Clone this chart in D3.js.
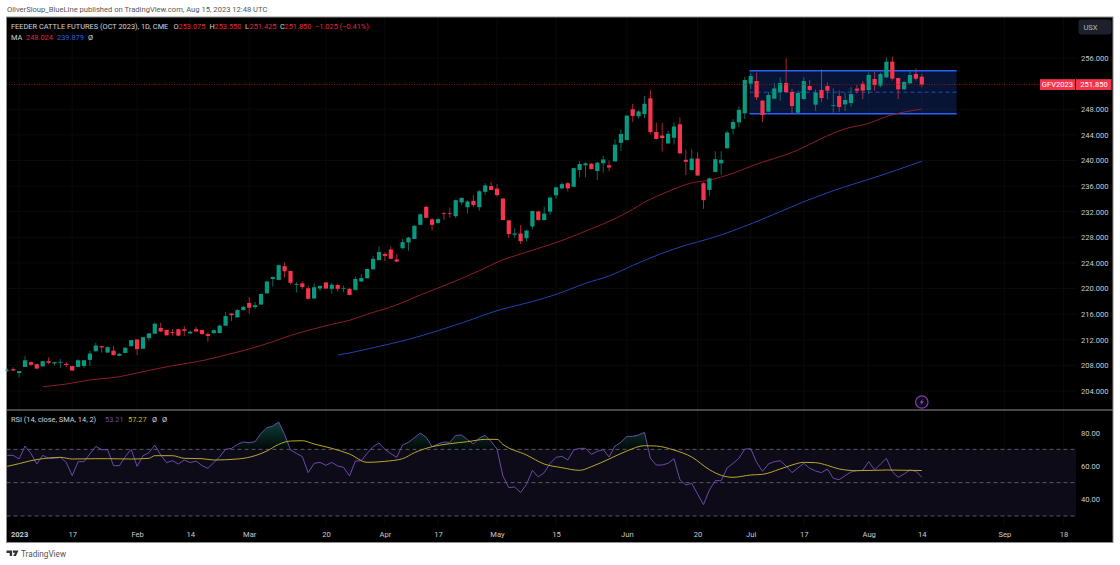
<!DOCTYPE html>
<html>
<head>
<meta charset="utf-8">
<script src="https://cdn.jsdelivr.net/npm/d3@7"></script>
<style>
  html, body { margin: 0; padding: 0; background: #fff; }
  svg { display: block; }
  text { font-family: Roboto, "Liberation Sans", sans-serif; }
</style>
</head>
<body>
<div id="chart"></div>
<script>
// daily candles, one value per session
const opens = [207.2,207.4,206.8,207.75,208.5,208.2,207.85,208.65,208.3,208.45,
  208.25,207.9,207.75,207.9,208.85,210.2,211.0,210.0,210.3,209.5,
  209.95,211.0,212.05,210.6,212.25,212.95,213.85,213.55,213.2,213.65,
  213.65,213.0,213.65,213.55,212.9,213.05,213.05,214.2,216.1,215.5,
  216.65,217.75,217.1,217.5,219.25,221.5,221.35,223.5,222.75,220.6,
  220.8,220.05,218.45,220.0,220.95,219.95,220.55,220.0,219.95,219.8,
  221.1,221.6,223.0,224.45,225.4,226.1,224.55,226.3,227.2,227.75,
  229.95,232.75,230.8,230.25,231.75,231.75,231.3,233.45,232.7,233.7,
  232.7,235.1,236.0,235.6,234.05,230.65,228.4,228.6,227.85,229.7,
  232.05,230.7,232.0,234.55,235.65,236.45,235.9,238.5,239.25,239.5,
  238.35,239.55,239.25,239.85,242.75,243.2,248.0,246.9,247.25,249.7,
  244.45,243.9,242.65,243.55,245.65,240.1,238.5,240.3,236.45,235.4,
  238.2,239.55,241.9,244.95,245.95,247.36,251.99,252.41,249.34,247.62,
  249.65,250.69,252.1,250.69,247.46,249.6,251.63,248.71,251.0,251.63,
  248.56,250.07,248.76,248.97,251.21,251.99,251.0,252.72,251.68,252.98,
  255.43,252.88,251.11,252.04,253.5,253.075]
const highs = [207.5,207.7,207.1,209.5,208.6,208.2,208.7,209.25,208.55,209.0,
  208.5,207.95,208.95,208.85,210.25,211.55,211.05,210.95,211.05,209.95,
  210.85,212.0,212.05,212.4,213.05,214.7,214.65,213.55,213.7,213.7,
  214.15,213.45,214.05,213.55,213.2,213.6,214.4,216.35,216.15,216.8,
  217.3,218.7,217.9,219.2,221.2,221.85,223.75,224.1,222.75,221.0,
  221.1,220.45,220.8,220.5,221.05,220.85,220.7,220.45,220.15,221.9,
  222.25,223.1,225.1,226.6,225.65,226.6,225.4,227.75,228.1,229.9,
  231.75,232.95,231.0,231.0,231.95,232.65,233.9,234.25,233.8,234.6,
  235.4,236.45,236.65,236.3,234.1,230.7,229.4,229.9,229.2,232.2,
  232.15,232.8,234.35,235.9,236.6,236.6,238.85,239.9,239.7,239.55,
  239.8,240.7,240.0,243.3,244.85,247.05,248.85,247.9,250.05,251.0,
  245.9,245.85,244.65,245.95,246.75,241.7,241.75,241.3,236.6,237.35,
  241.45,241.45,244.65,246.45,248.4,253.08,253.6,253.71,249.44,250.74,
  252.15,252.98,255.95,251.21,250.9,252.98,252.56,251.11,254.23,252.2,
  251.26,250.95,250.59,251.42,251.78,252.41,253.71,253.87,253.71,256.1,
  256.21,252.93,252.46,254.13,254.39,253.55]
const lows = [207.0,207.1,206.1,207.75,207.9,207.45,207.8,208.2,208.0,207.6,
  207.75,207.15,207.75,207.6,207.9,210.15,210.0,209.95,209.55,209.4,
  209.9,210.95,209.6,210.55,211.85,212.9,213.2,212.65,212.65,212.6,
  212.6,212.9,213.2,212.75,211.7,212.85,213.0,214.15,214.95,215.45,
  216.55,216.05,216.85,217.45,219.2,220.3,221.3,221.75,220.6,219.35,
  219.9,218.3,218.35,219.6,219.9,219.2,219.55,219.4,218.95,219.7,
  221.05,221.55,222.95,224.4,224.3,224.6,224.15,226.15,225.9,227.7,
  229.9,231.0,229.05,230.1,230.7,231.05,231.0,233.05,231.7,232.7,
  232.15,234.65,235.35,234.35,230.65,227.9,227.9,226.95,227.35,229.25,
  230.6,230.65,231.5,234.0,235.5,235.15,235.85,237.35,237.4,238.6,
  236.95,238.1,238.35,239.8,241.5,243.15,246.05,246.5,246.6,244.1,
  243.3,241.4,242.6,242.5,241.05,237.7,238.45,237.55,232.45,234.5,
  238.15,237.8,241.85,244.1,245.2,246.47,251.11,249.44,246.0,247.51,
  249.55,249.34,250.59,247.36,247.41,249.44,250.9,247.72,249.13,249.55,
  247.46,247.57,247.72,248.4,250.48,249.6,250.38,250.9,251.42,252.88,
  252.46,249.6,251.0,251.94,252.46,251.425]
const closes = [207.3,207.2,207.1,208.8,208.1,207.5,208.65,208.4,208.5,208.55,
  208.05,207.2,208.8,208.8,209.85,211.1,210.8,210.85,209.6,209.8,
  210.75,211.95,210.55,212.4,213.0,214.5,213.3,212.7,213.1,212.65,
  213.4,213.25,213.3,212.9,212.6,213.5,214.2,215.7,215.85,216.65,
  217.15,217.0,217.4,219.15,221.1,221.8,223.65,222.7,220.9,220.7,
  220.25,218.4,220.2,220.4,220.0,220.6,219.95,220.1,219.0,221.5,
  221.65,223.05,224.65,225.7,225.1,224.65,224.2,227.25,227.95,229.8,
  231.6,231.05,229.95,230.85,231.65,231.65,233.8,234.15,233.6,233.05,
  235.2,236.1,235.4,234.6,230.7,228.5,228.6,227.4,229.05,232.1,
  230.7,231.7,234.2,235.8,236.3,235.65,238.8,239.45,239.55,238.65,
  239.65,240.15,238.9,242.45,244.15,247.0,246.95,247.65,248.85,244.45,
  243.35,243.5,244.15,245.3,241.1,239.8,240.3,237.65,233.8,237.2,
  240.2,240.1,244.35,246.0,247.9,252.56,253.19,249.86,247.1,250.22,
  251.26,252.1,250.69,248.5,250.53,252.41,251.0,250.59,249.75,250.9,
  248.66,248.35,249.44,250.38,250.9,250.9,253.35,251.78,253.5,255.43,
  252.77,251.11,252.25,253.35,252.77,251.85]

// moving averages, read at a bar every so often
const maRedBars = [6,10,14,19,23,28,33,37,41,45,48,52,55,58,61,66,70,75,80,84,87,94,99,103,106,108,112,116,119,123,126,134,138,142,146,149,155]
const maRedValues = [204.67,205.09,205.72,206.23,207.02,207.95,208.73,209.62,210.56,211.7,212.67,213.71,214.42,215.04,215.98,217.45,219.0,220.8,222.79,224.49,225.4,227.5,229.34,230.91,232.37,233.48,235.15,236.5,236.94,238.0,239.09,241.63,243.43,244.94,245.8,246.86,248.024]
const maBlueBars = [56,58,62,68,73,77,83,89,93,98,102,106,108,113,121,128,135,141,147,155]
const maBlueValues = [209.62,209.94,210.76,212.06,213.42,214.62,216.54,217.98,219.07,220.82,221.96,223.6,224.4,226.17,228.38,230.83,233.56,235.6,237.34,239.879]

const rsi = [66.4,66.4,64.2,72.0,67.6,61.2,66.4,64.6,64.6,65.2,
  62.2,54.2,62.6,62.6,67.2,71.8,69.8,69.8,60.2,60.2,
  65.6,70.0,59.8,66.2,68.0,72.6,66.6,62.0,63.2,61.2,
  63.6,62.0,63.0,60.2,58.6,62.0,65.6,70.0,70.6,73.0,
  74.4,74.0,74.6,79.6,83.0,84.0,86.4,79.0,69.6,67.6,
  65.6,56.0,61.6,62.2,60.4,62.2,60.0,59.2,54.0,63.0,
  63.2,67.6,71.6,73.8,70.0,67.4,65.2,72.6,74.2,77.0,
  79.8,77.2,71.6,73.2,74.4,74.2,78.4,78.6,75.8,73.2,
  76.8,78.4,74.8,70.2,54.0,47.0,47.4,44.0,49.0,57.4,
  53.4,56.0,61.6,65.2,65.8,63.6,69.6,70.6,70.6,67.0,
  68.8,69.8,65.4,72.0,74.2,77.8,77.8,78.6,80.2,64.6,
  60.6,60.6,61.6,64.4,51.8,48.6,49.6,43.2,36.8,45.6,
  51.2,51.2,58.8,61.6,64.6,70.2,70.4,62.2,56.8,61.2,
  62.6,63.2,60.0,56.0,58.8,61.6,58.6,57.0,56.0,58.2,
  52.6,51.8,54.2,56.4,57.2,57.4,62.6,57.6,61.2,64.6,
  56.6,53.2,55.2,57.6,56.8,53.21]
const rsiMaBars = [0,2,4,7,9,11,15,17,21,24,25,28,30,33,35,39,42,44,46,48,50,52,55,58,61,64,67,69,72,75,78,81,83,84,88,91,94,97,99,102,105,108,110,113,116,119,121,123,126,128,131,133,135,137,139,141,144,147,149,153,155]
const rsiMaValues = [59.8,61.4,63.2,64.8,65.2,64.2,64.4,64.4,64.2,64.6,66.2,66.2,64.6,64.4,63.6,64.2,66.2,69.0,73.0,75.0,75.2,73.2,70.6,67.2,62.2,62.8,64.4,68.0,71.6,73.4,74.6,76.0,76.0,73.0,66.6,61.2,59.0,57.4,59.6,64.2,69.0,72.2,72.0,69.6,65.4,57.8,54.4,53.2,54.6,55.0,58.2,60.6,62.2,62.0,60.4,58.2,57.2,57.4,57.6,57.4,57.27]

// range box drawn on the chart
const boxBars = [125.8, 160.9]
const boxPrices = [254.02, 247.3]

const priceTicks = [256,248,244,240,236,232,228,224,220,216,212,208,204]
const rsiTicks = [80,60,40]
const rsiBands = [70,50,30]
const timeBars = [2,11,22,31,41,54,64,73,83,93,105,117,126,135,146,155,169,179]
const timeLabels = ['2023','17','Feb','14','Mar','20','Apr','17','May','15','Jun','20','Jul','17','Aug','14','Sep','18']

const lastClose = closes[closes.length - 1]

const svg = d3.select('#chart').append('svg')
    .attr('width', 1120)
    .attr('height', 565)

const paneLeft = 6.5, paneRight = 1113, paneTop = 17, paneBottom = 542.5, split = 410, axisX = 1076

const x = d3.scaleLinear().domain([0, 155]).range([7.3, 921.8])
const y = d3.scaleLinear().domain([204, 256]).range([391, 58])
const yRsi = d3.scaleLinear().domain([40, 80]).range([499.3, 432.7])

svg.append('rect').attr('x', paneLeft).attr('y', paneTop).attr('width', paneRight - paneLeft).attr('height', paneBottom - paneTop).attr('fill', '#000')

const defs = svg.append('defs')
defs.append('clipPath').attr('id', 'over70').append('rect')
    .attr('x', paneLeft).attr('y', yRsi(95)).attr('width', axisX - paneLeft).attr('height', yRsi(70) - yRsi(95))
const grad = defs.append('linearGradient').attr('id', 'overFill')
    .attr('gradientUnits', 'userSpaceOnUse')
    .attr('x1', 0).attr('x2', 0).attr('y1', yRsi(87)).attr('y2', yRsi(70))
grad.append('stop').attr('offset', 0).attr('stop-color', '#22ab94').attr('stop-opacity', 0.38)
grad.append('stop').attr('offset', 1).attr('stop-color', '#22ab94').attr('stop-opacity', 0.05)

// faint grid
svg.append('g').selectAll('line').data(timeBars).join('line')
    .attr('x1', d => x(d)).attr('x2', d => x(d)).attr('y1', paneTop).attr('y2', paneBottom - 17)
    .attr('stroke', '#0a0a0a')
svg.append('g').selectAll('line').data(priceTicks).join('line')
    .attr('x1', paneLeft).attr('x2', axisX).attr('y1', d => y(d)).attr('y2', d => y(d))
    .attr('stroke', '#0a0a0a')

// range box
svg.append('rect')
    .attr('x', x(boxBars[0])).attr('width', x(boxBars[1]) - x(boxBars[0]))
    .attr('y', y(boxPrices[0])).attr('height', y(boxPrices[1]) - y(boxPrices[0]))
    .attr('fill', '#2962ff').attr('fill-opacity', 0.2)
boxPrices.forEach(p => {
    svg.append('line')
        .attr('x1', x(boxBars[0])).attr('x2', x(boxBars[1])).attr('y1', y(p)).attr('y2', y(p))
        .attr('stroke', '#2962ff').attr('stroke-width', 1.4)
})
svg.append('line')
    .attr('x1', x(boxBars[0])).attr('x2', x(boxBars[1]))
    .attr('y1', y(d3.mean(boxPrices))).attr('y2', y(d3.mean(boxPrices)))
    .attr('stroke', '#2962ff').attr('stroke-opacity', 0.7).attr('stroke-dasharray', '4 3')

// moving averages
const maLine = d3.line().x(d => x(d[0])).y(d => y(d[1])).curve(d3.curveMonotoneX)
svg.append('path').attr('d', maLine(d3.zip(maRedBars, maRedValues)))
    .attr('fill', 'none').attr('stroke', '#8f1c30').attr('stroke-width', 1)
svg.append('path').attr('d', maLine(d3.zip(maBlueBars, maBlueValues)))
    .attr('fill', 'none').attr('stroke', '#1d45ad').attr('stroke-width', 1)

// candles
const bars = d3.range(opens.length)
const colorOf = i => closes[i] >= opens[i] ? '#089981' : '#f7344d'
const candle = svg.append('g').selectAll('g').data(bars).join('g')
candle.append('line')
    .attr('x1', i => x(i)).attr('x2', i => x(i))
    .attr('y1', i => y(highs[i])).attr('y2', i => y(lows[i]))
    .attr('stroke', colorOf).attr('stroke-width', 0.7)
candle.append('rect')
    .attr('x', i => x(i) - 2.1).attr('width', 4.2)
    .attr('y', i => y(Math.max(opens[i], closes[i])))
    .attr('height', i => Math.max(0.8, Math.abs(y(opens[i]) - y(closes[i]))))
    .attr('fill', colorOf)

// last price line
svg.append('line')
    .attr('x1', paneLeft).attr('x2', 1040).attr('y1', y(lastClose)).attr('y2', y(lastClose))
    .attr('stroke', '#a8182c').attr('stroke-width', 0.8).attr('stroke-dasharray', '1 1.5')

// rsi pane
svg.append('rect')
    .attr('x', paneLeft).attr('width', axisX - paneLeft)
    .attr('y', yRsi(70)).attr('height', yRsi(30) - yRsi(70))
    .attr('fill', '#0e0b18')
svg.append('g').selectAll('line').data(rsiBands).join('line')
    .attr('x1', paneLeft).attr('x2', axisX).attr('y1', d => yRsi(d)).attr('y2', d => yRsi(d))
    .attr('stroke', '#6f6f78').attr('stroke-width', 0.8).attr('stroke-dasharray', '4 3')
svg.append('path')
    .attr('d', d3.area().x((d, i) => x(i)).y0(yRsi(70)).y1(d => yRsi(d))(rsi))
    .attr('fill', 'url(#overFill)').attr('clip-path', 'url(#over70)')
svg.append('path')
    .attr('d', d3.line().x((d, i) => x(i)).y(d => yRsi(d))(rsi))
    .attr('fill', 'none').attr('stroke', '#6a4aa8').attr('stroke-width', 1)
svg.append('path')
    .attr('d', d3.line().x(d => x(d[0])).y(d => yRsi(d[1])).curve(d3.curveMonotoneX)(d3.zip(rsiMaBars, rsiMaValues)))
    .attr('fill', 'none').attr('stroke', '#b8a72c').attr('stroke-width', 1)

// axes
const styleAxis = g => {
    g.select('.domain').remove()
    g.selectAll('.tick line').remove()
    g.selectAll('text').attr('fill', '#c8cad2').attr('font-size', 7.6).style('font-family', 'Roboto, "Liberation Sans", sans-serif')
}
svg.append('g').attr('transform', 'translate(1081,0)')
    .call(d3.axisRight(y).tickValues(priceTicks).tickFormat(d3.format('.3f')).tickSize(0).tickPadding(0))
    .call(styleAxis)
svg.append('g').attr('transform', 'translate(1081,0)')
    .call(d3.axisRight(yRsi).tickValues(rsiTicks).tickFormat(d3.format('.2f')).tickSize(0).tickPadding(0))
    .call(styleAxis)
svg.append('g').attr('transform', 'translate(0,531.5)')
    .call(d3.axisBottom(x).tickValues(timeBars).tickFormat((d, i) => timeLabels[i]).tickSize(0).tickPadding(0))
    .call(styleAxis)
    .call(g => g.selectAll('text').filter((d, i) => i === 0).attr('font-weight', 700))

// panel borders
const border = svg.append('g').attr('stroke', '#8e8e8e').attr('fill', 'none')
border.append('rect').attr('x', paneLeft).attr('y', paneTop).attr('width', paneRight - paneLeft).attr('height', paneBottom - paneTop)
border.append('line').attr('x1', paneLeft).attr('x2', paneRight).attr('y1', split).attr('y2', split).attr('stroke-width', 1.2)

// price tags
const tagY = y(lastClose)
svg.append('rect').attr('x', 1040).attr('y', tagY - 5.4).attr('width', 35).attr('height', 10.8).attr('fill', '#f7344d')
svg.append('rect').attr('x', 1076).attr('y', tagY - 5.4).attr('width', 35.5).attr('height', 10.8).attr('fill', '#f7344d')
svg.append('text').attr('x', 1057.5).attr('y', tagY + 2.7).attr('text-anchor', 'middle')
    .attr('font-size', 7.6).attr('fill', '#fff').text('GFV2023')
svg.append('text').attr('x', 1094).attr('y', tagY + 2.7).attr('text-anchor', 'middle')
    .attr('font-size', 7.6).attr('fill', '#fff').text(d3.format('.3f')(lastClose))

// currency button
svg.append('rect').attr('x', 1078.5).attr('y', 19.5).attr('width', 33).attr('height', 15).attr('rx', 3).attr('fill', '#1c202c')
svg.append('text').attr('x', 1090.5).attr('y', 30).attr('text-anchor', 'middle')
    .attr('font-size', 7.6).attr('fill', '#b2b5be').text('USX')

// legends
const legend = (py, parts) => {
    const t = svg.append('text').attr('y', py).attr('font-size', 7.4)
    parts.forEach(p => t.append('tspan').attr('x', p[2]).attr('fill', p[1]).text(p[0]))
}
const legendRed = '#e0283f', legendWhite = '#d1d4dc'
legend(28.5, [
    ['FEEDER CATTLE FUTURES (OCT 2023), 1D, CME', legendWhite, 11],
    ['O', legendWhite, 173.5], ['253.075', legendRed, 178.5],
    ['H', legendWhite, 209.5], ['253.550', legendRed, 214.5],
    ['L', legendWhite, 245], ['251.425', legendRed, 249.5],
    ['C', legendWhite, 280], ['251.850', legendRed, 284.5],
    ['−1.025 (−0.41%)', legendRed, 315]
])
legend(40, [
    ['MA', legendWhite, 11], ['248.024', legendRed, 26], ['239.879', '#2d5fe0', 57], ['Ø', legendWhite, 88]
])
legend(422, [
    ['RSI (14, close, SMA, 14, 2)', legendWhite, 11], ['53.21', '#6a4aa8', 105], ['57.27', '#c9b82e', 128],
    ['Ø', legendWhite, 152], ['Ø', legendWhite, 162]
])

// header and footer
svg.append('text').attr('x', 7).attr('y', 11.8).attr('font-size', 7.6).attr('fill', '#555')
    .text('OliverSloup_BlueLine published on TradingView.com, Aug 15, 2023 12:48 UTC')
svg.append('path')
    .attr('transform', 'translate(6.5,550.5)')
    .attr('d', 'M0 0H5.6V5.6H3.2V2.4H0Z M6.4 0H12L9.4 5.6H6.6L8.6 2.2H6.4Z')
    .attr('fill', '#333')
svg.append('text').attr('x', 21).attr('y', 556.5).attr('font-size', 8.2).attr('fill', '#555').text('TradingView')

// alert icon at the last bar
const icon = svg.append('g').attr('transform', `translate(${x(155)},402)`)
icon.append('circle').attr('r', 6.2).attr('fill', '#0d0716').attr('stroke', '#7a3fa8').attr('stroke-width', 1.3)
icon.append('path').attr('d', 'M1.4 -3.8 L-2 0.7 H-0.2 L-1.4 3.8 L2 -0.7 H0.2 Z').attr('fill', '#8a4bbf')
</script>
</body>
</html>
